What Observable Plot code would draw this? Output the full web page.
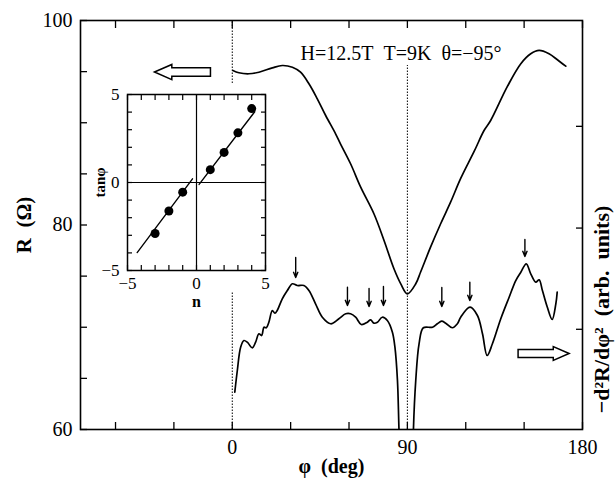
<!DOCTYPE html>
<html><head><meta charset="utf-8">
<script src="https://cdn.jsdelivr.net/npm/d3@7"></script>
<script src="https://cdn.jsdelivr.net/npm/@observablehq/plot@0.6"></script>
<style>
body{margin:0;background:#fff;}
#wrap{position:relative;width:615px;height:479px;}
#inset{position:absolute;left:77px;top:84px;width:198px;}
#wrap svg, #wrap svg text{font-family:"Liberation Serif","Times New Roman",serif !important;}
</style></head><body><div id="wrap"><div id="main"></div><div id="inset"></div></div>
<script>
// ---- main panel data: R(phi) ----
const phiR = [0.3, 3.4, 8.5, 13.7, 20.6, 25.7, 30.9, 35.1, 39.4, 43.7, 48.0, 53.1, 55.6, 60.8, 66.0, 72.8, 78.0, 83.1, 86.6, 90.0, 94.3, 96.8, 101.9, 107.1, 112.2, 117.4, 124.3, 129.4, 132.8, 141.4, 148.3, 153.4, 157.7, 162.8, 167.1, 171.4];
const valR = [95.11, 94.89, 94.79, 94.94, 95.37, 95.60, 95.43, 94.94, 93.81, 92.34, 90.71, 88.92, 87.94, 85.99, 83.70, 81.10, 78.49, 75.72, 74.25, 73.27, 74.25, 75.40, 77.83, 80.12, 82.23, 84.55, 87.19, 89.24, 90.22, 93.55, 95.77, 96.74, 97.07, 96.74, 96.16, 95.53];
// ---- main panel data: -d2R/dphi2 (arb. units) ----
const phiD = [1.3, 2.6, 4.3, 6.0, 7.7, 10.3, 12.0, 13.7, 15.1, 16.3, 17.5, 18.8, 20.6, 21.9, 23.1, 25.7, 28.3, 30.9, 33.4, 36.8, 39.4, 42.8, 46.3, 50.6, 54.8, 58.3, 60.8, 63.4, 66.3, 69.4, 71.1, 72.8, 74.6, 77.1, 79.7, 82.3, 83.6, 84.9, 85.7, 87.5, 92.4, 93.1, 94.3, 96.0, 98.2, 102.9, 105.4, 107.6, 109.7, 113.1, 115.7, 117.4, 122.2, 126.0, 128.6, 131.0, 133.7, 138.0, 142.3, 145.7, 148.3, 151.1, 153.4, 156.0, 157.7, 159.4, 161.8, 164.4, 166.3, 167.0];
const valD = [63.65, 65.77, 68.05, 68.70, 68.54, 67.99, 68.54, 69.36, 69.19, 70.00, 69.95, 70.49, 71.64, 71.37, 71.64, 72.78, 73.59, 74.25, 74.08, 74.08, 73.59, 72.29, 70.98, 70.34, 70.83, 71.32, 71.32, 70.98, 70.27, 70.49, 70.73, 70.40, 70.49, 70.98, 70.66, 69.52, 68.05, 64.79, 59.90, 50.0, 50.0, 59.90, 64.79, 68.38, 69.95, 70.00, 70.34, 70.59, 70.40, 69.95, 70.34, 70.98, 71.96, 71.15, 69.36, 67.24, 68.38, 70.83, 72.94, 74.57, 75.38, 76.20, 75.23, 74.41, 74.64, 73.59, 72.03, 70.76, 72.29, 73.43];
// peak markers (small arrows)
const peakPhi = [32.6, 59.2, 70.3, 77.7, 107.7, 122.1, 150.4];
const peakTop = [76.82, 73.92, 73.79, 73.98, 73.89, 74.41, 78.58];
const peakTip = [74.87, 72.13, 72.03, 72.13, 72.03, 72.62, 76.92];
// dotted guide lines
const guidePhi  = [0, 0, 90];
const guideFrom = [93.84, 60, 60];
const guideTo   = [100, 73.43, 95.6];
// ticks
const xTicks = [-60, -30, 0, 30, 60, 90, 120, 150, 180];
const xLabels = [0, 90, 180];
const yTicks = [60, 65, 70, 75, 80, 85, 90, 95, 100];
const yLabels = [60, 80, 100];
const rightTicks = [69.8, 79.7, 89.65];
// texts
const annotation = "H=12.5T\u2002T=9K\u2002θ=−95°";
const xTitle = "φ\u2002(deg)";
const yTitle = "R\u2002(Ω)";
const y2Title = "−d²R/dφ²\u2002(arb.\u2002units)";
// hollow arrows (which curve goes with which axis)
const axisArrowPhi = [-25.6, 160.0];
const axisArrowVal = [94.96, 67.43];
const axisArrowSize = [28, 25.5];

// ---- inset data ----
const insetN = [-3, -2, -1, 1, 2, 3, 4];
const insetTan = [-2.9, -1.62, -0.55, 0.73, 1.71, 2.82, 4.2];
const fitLeftN = [-4.3, -0.29], fitLeftT = [-3.98, 0.21];
const fitRightN = [0.19, 4.22], fitRightT = [-0.11, 4.02];
const insetTicks = [-5, -4, -3, -2, -1, 0, 1, 2, 3, 4, 5];
const insetLabels = [-5, 0, 5];

const R = phiR.map((p, i) => ({phi: p, v: valR[i]}));
const D = phiD.map((p, i) => ({phi: p, v: valD[i]}));
const peaks = peakPhi.map((p, i) => ({phi: p, top: peakTop[i], tip: peakTip[i]}));
const guides = guidePhi.map((p, i) => ({phi: p, a: guideFrom[i], b: guideTo[i]}));

function blockArrow(dir) {
  return {
    draw(ctx, size) {
      const s = Math.sqrt(size / Math.PI);
      const hl = 0.62 * s, hh = 0.27 * s, sh = 0.155 * s;
      ctx.moveTo(dir * s, 0);
      ctx.lineTo(dir * (s - hl), -hh);
      ctx.lineTo(dir * (s - hl), -sh);
      ctx.lineTo(-dir * s, -sh);
      ctx.lineTo(-dir * s, sh);
      ctx.lineTo(dir * (s - hl), sh);
      ctx.lineTo(dir * (s - hl), hh);
      ctx.closePath();
    }
  };
}

const serif = "'Liberation Serif', 'Times New Roman', serif";
const noLabel = () => "";

const main = Plot.plot({
  width: 615, height: 479,
  marginLeft: 80, marginRight: 33, marginTop: 20, marginBottom: 50,
  x: {domain: [-78, 180]},
  y: {domain: [60, 100]},
  style: {fontFamily: serif, fontSize: "20px", color: "black", background: "white"},
  marks: [
    Plot.axisX({anchor: "bottom", ticks: xTicks, tickSize: -7, tickFormat: noLabel, label: null, strokeWidth: 1.3}),
    Plot.axisX({anchor: "top", ticks: xTicks, tickSize: -7, tickFormat: noLabel, label: null, strokeWidth: 1.3}),
    Plot.axisX({anchor: "bottom", ticks: xLabels, tickSize: 0, tickPadding: 10, label: null, fontSize: 20, fontFamily: serif}),
    Plot.axisY({anchor: "left", ticks: yTicks, tickSize: -7, tickFormat: noLabel, label: null, strokeWidth: 1.3}),
    Plot.axisY({anchor: "left", ticks: yLabels, tickSize: 0, tickPadding: 8, label: null, fontSize: 20, fontFamily: serif}),
    Plot.axisY({anchor: "right", ticks: rightTicks, tickSize: -7, tickFormat: noLabel, label: null, strokeWidth: 1.3}),
    Plot.frame({strokeWidth: 1.6}),
    Plot.ruleX(guides, {x: "phi", y1: "a", y2: "b", strokeWidth: 1, strokeDasharray: "1.5 1.5"}),
    Plot.line(R, {x: "phi", y: "v", curve: "catmull-rom", strokeWidth: 1.7}),
    Plot.line(D, {x: "phi", y: "v", curve: "catmull-rom", strokeWidth: 1.7, clip: true}),
    Plot.arrow(peaks, {x: "phi", y1: "top", y2: "tip", headLength: 6, headAngle: 45, strokeWidth: 1.4}),
    Plot.dot([0], {x: axisArrowPhi[0], y: axisArrowVal[0], r: axisArrowSize[0], symbol: blockArrow(-1), fill: "white", stroke: "black", strokeWidth: 1.5}),
    Plot.dot([0], {x: axisArrowPhi[1], y: axisArrowVal[1], r: axisArrowSize[1], symbol: blockArrow(1), fill: "white", stroke: "black", strokeWidth: 1.5}),
    Plot.text([annotation], {x: 35.1, y: 96.8, text: d => d, textAnchor: "start", fontSize: 20, fontFamily: serif}),
    Plot.text([xTitle], {frameAnchor: "bottom", dy: 37, text: d => d, textAnchor: "middle", lineAnchor: "middle", fontSize: 20, fontWeight: "bold", fontFamily: serif}),
    Plot.text([yTitle], {frameAnchor: "left", dx: -56, rotate: -90, text: d => d, textAnchor: "middle", lineAnchor: "middle", fontSize: 21, fontWeight: "bold", fontFamily: serif}),
    Plot.text([y2Title], {frameAnchor: "right", dx: 19, dy: 84.5, rotate: -90, text: d => d, textAnchor: "middle", lineAnchor: "middle", fontSize: 22, fontWeight: "bold", fontFamily: serif})
  ]
});
document.getElementById("main").appendChild(main);

const inset = Plot.plot({
  width: 198, height: 231,
  marginLeft: 50, marginRight: 10, marginTop: 10, marginBottom: 45,
  x: {domain: [-5, 5]},
  y: {domain: [-5, 5]},
  style: {fontFamily: serif, fontSize: "17px", color: "black", background: "transparent"},
  marks: [
    Plot.frame({fill: "white", stroke: "black", strokeWidth: 1.5}),
    Plot.ruleX([0], {strokeWidth: 1.2}),
    Plot.ruleY([0], {strokeWidth: 1.2}),
    Plot.axisX({anchor: "bottom", ticks: insetTicks, tickSize: -5, tickFormat: noLabel, label: null, strokeWidth: 1.2}),
    Plot.axisX({anchor: "top", ticks: insetTicks, tickSize: -5, tickFormat: noLabel, label: null, strokeWidth: 1.2}),
    Plot.axisY({anchor: "left", ticks: insetTicks, tickSize: -5, tickFormat: noLabel, label: null, strokeWidth: 1.2}),
    Plot.axisY({anchor: "right", ticks: insetTicks, tickSize: -5, tickFormat: noLabel, label: null, strokeWidth: 1.2}),
    Plot.axisX({anchor: "bottom", ticks: insetLabels, tickSize: 0, tickPadding: 6, label: null, fontSize: 17, fontFamily: serif}),
    Plot.axisY({anchor: "left", ticks: insetLabels, tickSize: 0, tickPadding: 8, label: null, fontSize: 17, fontFamily: serif}),
    Plot.line(fitLeftN.map((n, i) => ({n, t: fitLeftT[i]})), {x: "n", y: "t", strokeWidth: 1.4}),
    Plot.line(fitRightN.map((n, i) => ({n, t: fitRightT[i]})), {x: "n", y: "t", strokeWidth: 1.4}),
    Plot.dot(insetN.map((n, i) => ({n, t: insetTan[i]})), {x: "n", y: "t", r: 4.5, fill: "black"}),
    Plot.text(["tanφ"], {frameAnchor: "left", dx: -27, rotate: -90, text: d => d, textAnchor: "middle", lineAnchor: "middle", fontSize: 15, fontWeight: "bold", fontFamily: serif}),
    Plot.text(["n"], {frameAnchor: "bottom", dy: 31, text: d => d, textAnchor: "middle", lineAnchor: "middle", fontSize: 16, fontWeight: "bold", fontFamily: serif})
  ]
});
document.getElementById("inset").appendChild(inset);
</script></body></html>
